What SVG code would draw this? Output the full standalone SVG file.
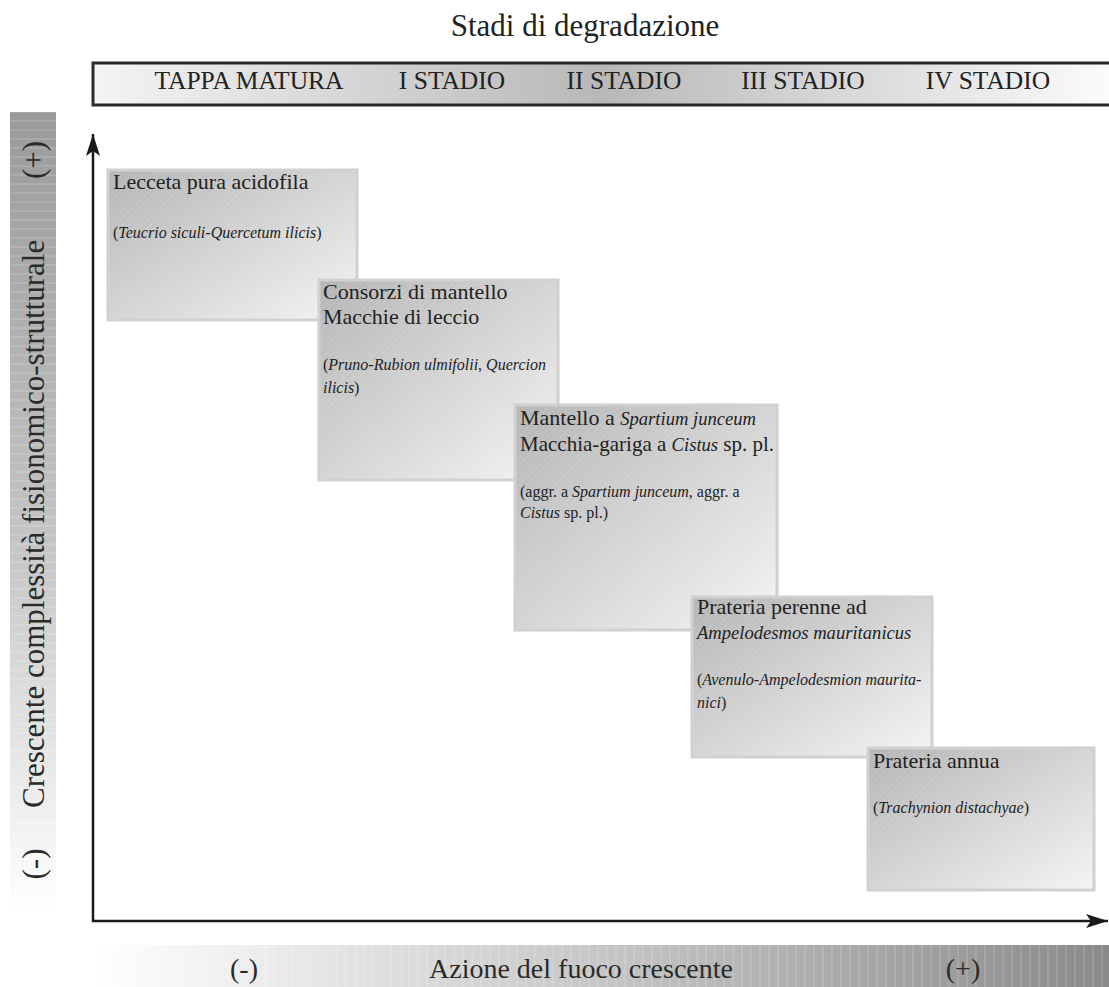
<svg xmlns="http://www.w3.org/2000/svg" width="1109" height="987" viewBox="0 0 1109 987">
<style>
text{font-family:"Liberation Serif","Times New Roman",serif;fill:#222}
.stage{font-size:25.5px;text-anchor:middle}
.main{font-size:22px}
.main .it{font-size:18.6px}
.sub{font-size:16px}
.it{font-style:italic}
.box{stroke:#d0d0d0;stroke-width:3}
.axis{stroke:#1a1a1a;stroke-width:2.5;fill:none}
.band{font-size:31px;fill:#2a2a2a}
.bband{font-size:28px;fill:#2a2a2a;text-anchor:middle}
</style>
<defs>
<linearGradient id="topg" x1="93" y1="0" x2="1109" y2="0" gradientUnits="userSpaceOnUse">
<stop offset="0" stop-color="#f4f4f4"/>
<stop offset="0.5" stop-color="#b8b8b8"/>
<stop offset="1" stop-color="#fbfbfb"/>
</linearGradient>
<linearGradient id="leftg" x1="0" y1="0" x2="0" y2="1">
<stop offset="0" stop-color="#9a9a9a"/>
<stop offset="0.55" stop-color="#c6c6c6"/>
<stop offset="1" stop-color="#fff"/>
</linearGradient>
<linearGradient id="botg" x1="0" y1="0" x2="1" y2="0">
<stop offset="0" stop-color="#fff"/>
<stop offset="0.5" stop-color="#c6c6c6"/>
<stop offset="1" stop-color="#8a8a8a"/>
</linearGradient>
<linearGradient id="boxg" x1="0" y1="0" x2="1" y2="1">
<stop offset="0" stop-color="#b5b5b5"/>
<stop offset="1" stop-color="#f4f4f4"/>
</linearGradient>
<pattern id="hatch" width="5" height="5" patternUnits="userSpaceOnUse" patternTransform="rotate(45)">
<line x1="0" y1="0" x2="0" y2="5" stroke="#fff" stroke-width="1" stroke-opacity="0.22"/>
</pattern>
<pattern id="hstripes" width="10" height="9" patternUnits="userSpaceOnUse">
<line x1="0" y1="4" x2="10" y2="4" stroke="#fff" stroke-width="1" stroke-opacity="0.25"/>
</pattern>
<pattern id="vstripes" width="9" height="10" patternUnits="userSpaceOnUse">
<line x1="4" y1="0" x2="4" y2="10" stroke="#fff" stroke-width="1" stroke-opacity="0.25"/>
</pattern>
<marker id="arr" markerWidth="24" markerHeight="14" refX="22" refY="7" orient="auto" markerUnits="userSpaceOnUse">
<path d="M0,0 L22,7 L0,14 L5,7 Z" fill="#1a1a1a"/>
</marker>
</defs>

<g id="title">
<text x="585" y="36" font-size="31" text-anchor="middle">Stadi di degradazione</text>
</g>

<g id="stages">
<rect x="93" y="63" width="1020" height="42" fill="url(#topg)" stroke="#2a2a2a" stroke-width="3"/>
<text class="stage" x="249" y="89">TAPPA MATURA</text>
<text class="stage" x="452" y="89">I STADIO</text>
<text class="stage" x="624" y="89">II STADIO</text>
<text class="stage" x="803" y="89">III STADIO</text>
<text class="stage" x="988" y="89">IV STADIO</text>
</g>

<g id="y-label">
<rect x="10" y="112" width="46" height="801" fill="url(#leftg)"/>
<rect x="10" y="112" width="46" height="801" fill="url(#hstripes)"/>
<text class="band" transform="translate(44,808) rotate(-90)">Crescente complessità fisionomico-strutturale</text>
<text class="band" text-anchor="middle" transform="translate(44,160) rotate(-90)">(+)</text>
<text class="band" text-anchor="middle" transform="translate(44,864) rotate(-90)">(-)</text>
</g>

<g id="x-label">
<rect x="93" y="945" width="1016" height="42" fill="url(#botg)"/>
<rect x="93" y="945" width="1016" height="42" fill="url(#vstripes)"/>
<text class="bband" x="244" y="978">(-)</text>
<text class="bband" x="581" y="978">Azione del fuoco crescente</text>
<text class="bband" x="963" y="978">(+)</text>
</g>

<g id="connectors">
<line class="axis" x1="93" y1="922" x2="93" y2="134" marker-end="url(#arr)"/>
<line class="axis" x1="92" y1="921" x2="1108" y2="921" marker-end="url(#arr)"/>
</g>

<g id="n1">
<rect class="box" x="108" y="170" width="249" height="150" fill="url(#boxg)"/>
<rect x="108" y="170" width="249" height="150" fill="url(#hatch)"/>
<text class="main" x="113" y="189">Lecceta pura acidofila</text>
<text class="sub" x="113" y="238">(<tspan class="it">Teucrio siculi-Quercetum ilicis</tspan>)</text>
</g>

<g id="n2">
<rect class="box" x="319" y="280" width="239" height="200" fill="url(#boxg)"/>
<rect x="319" y="280" width="239" height="200" fill="url(#hatch)"/>
<text class="main" x="323" y="299">Consorzi di mantello</text>
<text class="main" x="323" y="324">Macchie di leccio</text>
<text class="sub" x="323" y="370">(<tspan class="it">Pruno-Rubion ulmifolii</tspan>, <tspan class="it">Quercion</tspan></text>
<text class="sub" x="323" y="393"><tspan class="it">ilicis</tspan>)</text>
</g>

<g id="n3">
<rect class="box" x="515" y="405" width="262" height="225" fill="url(#boxg)"/>
<rect x="515" y="405" width="262" height="225" fill="url(#hatch)"/>
<text class="main" x="520" y="425">Mantello a <tspan class="it">Spartium junceum</tspan></text>
<text class="main" x="520" y="451" style="font-size:21px">Macchia-gariga a <tspan class="it">Cistus</tspan> sp. pl.</text>
<text class="sub" x="520" y="497">(aggr. a <tspan class="it">Spartium junceum</tspan>, aggr. a</text>
<text class="sub" x="520" y="518"><tspan class="it">Cistus</tspan> sp. pl.)</text>
</g>

<g id="n4">
<rect class="box" x="692" y="597" width="240" height="160" fill="url(#boxg)"/>
<rect x="692" y="597" width="240" height="160" fill="url(#hatch)"/>
<text class="main" x="697" y="614">Prateria perenne ad</text>
<text class="main" x="697" y="639"><tspan class="it">Ampelodesmos mauritanicus</tspan></text>
<text class="sub" x="697" y="685">(<tspan class="it">Avenulo-Ampelodesmion maurita-</tspan></text>
<text class="sub" x="697" y="708"><tspan class="it">nici</tspan>)</text>
</g>

<g id="n5">
<rect class="box" x="868" y="748" width="226" height="142" fill="url(#boxg)"/>
<rect x="868" y="748" width="226" height="142" fill="url(#hatch)"/>
<text class="main" x="873" y="768">Prateria annua</text>
<text class="sub" x="873" y="813">(<tspan class="it">Trachynion distachyae</tspan>)</text>
</g>
</svg>
